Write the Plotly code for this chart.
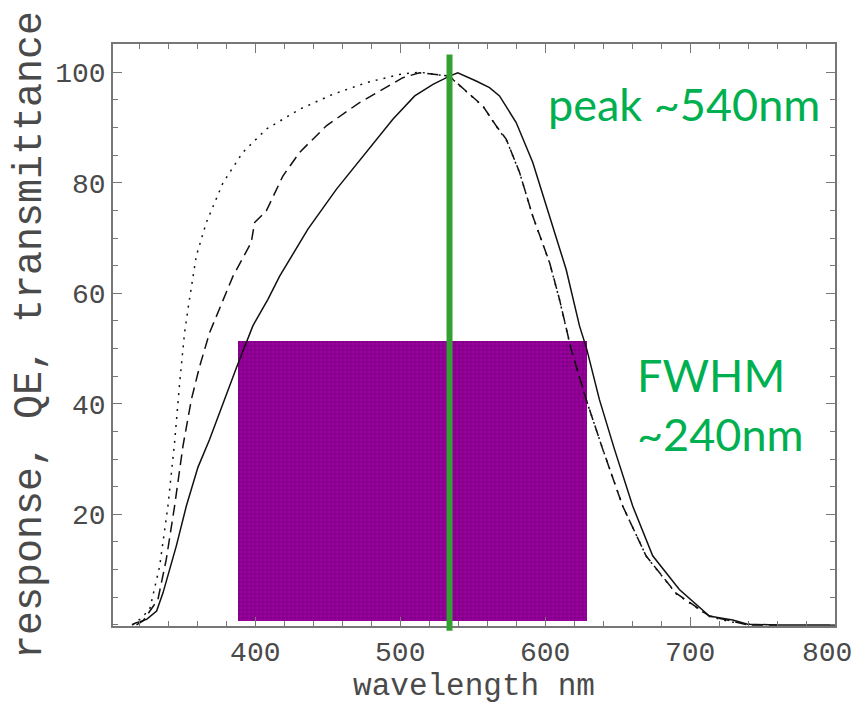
import plotly.graph_objects as go

# ---- data ----
solid_x = [315, 317, 325, 331.9, 336.3, 345.5, 352.4, 360.4, 368.5, 377.7, 386.9, 398.3, 408.7, 416.8,
           436.3, 455.9, 476.6, 494.9, 510, 522.6, 534, 539.7, 552.4, 561.6, 568.5, 580, 591.4, 603,
           614.5, 623.7, 628.7, 637.4, 647.8, 660.4, 674.2, 692.6, 713.3, 720, 729.4, 739.7, 760, 800]
solid_y = [0, 0.3, 1.0, 2.5, 5.8, 14.3, 21.5, 28.5, 33.6, 40.2, 46.5, 54.1, 58.9, 63.1,
           71.6, 78.8, 85.5, 91.5, 95.7, 97.8, 99.3, 99.9, 98.4, 97.2, 95.7, 90.9, 83.7, 74.0,
           64.3, 54.1, 49.9, 40.8, 31.8, 21.5, 12.5, 6.4, 1.6, 1.3, 0.9, 0.1, 0, 0]

dashed_x = [318, 322.5, 332.8, 338.6, 344.3, 350.1, 355.9, 361.6, 368.5, 377.7, 384.6, 397.2, 398.5,
            399.5, 407.6, 419.0, 430.6, 449, 471.9, 488, 501.8, 513.3, 522.5, 534, 536.3, 545.5, 557,
            566.2, 573.1, 582.3, 591.4, 603, 609.9, 617.9, 628.3, 639.7, 653.5, 669.6, 690.1, 713.3,
            729, 740, 760]
dashed_y = [0, 0.7, 4.6, 11.9, 21.5, 32.4, 40.8, 46.8, 52.9, 58.9, 63.1, 69.2, 71.5,
            72.8, 74.9, 81.2, 85.5, 90.3, 94.5, 96.9, 99.0, 99.9, 99.6, 99.3, 98.7, 96.6, 93.9,
            90.3, 87.9, 81.9, 74.0, 65.6, 58.9, 49.9, 40.8, 31.8, 21.5, 12.5, 5.8, 1.6,
            0.6, 0, 0]

dotted_x = [315, 320.2, 327.1, 334, 339.7, 344.3, 347.8, 351.2, 354.2, 359.3, 366.2, 377.7, 391.4,
            407.6, 430.6, 453.5, 476.6, 499.5, 513.3, 525, 534, 537, 546, 557.5, 566.5, 573.5, 582.5,
            591.6, 603.2, 610, 618, 628.5, 640, 653.8, 670, 690.5, 713.5, 729, 745]
dotted_y = [0, 1.0, 2.8, 10.6, 21.5, 33.0, 43.8, 52.9, 58.3, 66.8, 72.8, 80.0, 85.5,
            89.7, 93.3, 96.0, 98.1, 99.6, 100.0, 99.6, 99.1, 98.5, 96.4, 93.7, 90.1, 87.6, 81.7,
            73.8, 65.4, 58.7, 49.7, 40.6, 31.6, 21.3, 12.3, 5.6, 1.5, 0.5, 0]

peak_nm = 534
fwhm_left, fwhm_right = 388, 629
fwhm_bottom, fwhm_top = 0.7, 51.3

x_tick_vals = [400, 500, 600, 700, 800]
x_tick_labels = ["400", "500", "600", "700", "800"]
y_tick_vals = [20, 40, 60, 80, 100]

peak_label = "peak ~540nm"
fwhm_label = "FWHM<br>~240nm"

# ---- figure ----
fig = go.Figure()
line_col = "#111111"
fig.add_trace(go.Scatter(x=dotted_x, y=dotted_y, mode="lines",
                         line=dict(color=line_col, width=1.5, dash="2px,6px")))
fig.add_trace(go.Scatter(x=dashed_x, y=dashed_y, mode="lines",
                         line=dict(color=line_col, width=1.5, dash="11px,6px")))
fig.add_trace(go.Scatter(x=solid_x, y=solid_y, mode="lines",
                         line=dict(color=line_col, width=1.5)))

fig.add_trace(go.Bar(x=[(fwhm_left + fwhm_right) / 2], y=[fwhm_top - fwhm_bottom],
                     base=[fwhm_bottom], width=[fwhm_right - fwhm_left],
                     marker=dict(color="#9a00a0", line=dict(width=0),
                                 pattern=dict(shape="+", fgcolor="#1a001a", bgcolor="#9a00a0",
                                              size=4, solidity=0.2))))

fig.add_shape(type="line", xref="x", yref="paper", x0=peak_nm, x1=peak_nm,
              y0=-0.008, y1=0.982, line=dict(color="#34a033", width=6), layer="above")

green_font = dict(family="Lato, Noto Sans", size=45, color="#00b050")
fig.add_annotation(x=600.5, y=94.3, xref="x", yref="y", text=peak_label, showarrow=False,
                   xanchor="left", yanchor="middle", font=green_font)
fig.add_annotation(x=662, y=39.8, xref="x", yref="y", text=fwhm_label, showarrow=False,
                   xanchor="left", yanchor="middle", align="left", font=green_font)

axis_col = "#777777"
mono = "Liberation Mono, DejaVu Sans Mono"
tick_font = dict(family=mono, size=28, color="#4a4a4a")

# last x tick label would spill past the page edge: draw it as an annotation kept inside
fig.add_annotation(x=1, y=0, xref="paper", yref="paper", text=x_tick_labels[-1],
                   showarrow=False, xanchor="right", yanchor="middle", xshift=19, yshift=-27,
                   font=tick_font)
shown_x_labels = x_tick_labels[:-1] + [""]

fig.update_xaxes(range=[301.8, 800], tickvals=x_tick_vals, ticktext=shown_x_labels,
                 ticks="inside", ticklen=9,
                 tickcolor=axis_col, showline=True, linecolor=axis_col, linewidth=1.5,
                 mirror="allticks", showgrid=False, zeroline=False, tickfont=tick_font,
                 automargin=False,
                 minor=dict(dtick=20, tick0=300, ticks="inside", ticklen=5, tickcolor=axis_col,
                            showgrid=False),
                 title=dict(text="wavelength nm", standoff=0,
                            font=dict(family=mono, size=31, color="#4a4a4a")))
fig.update_yaxes(range=[-0.2, 105.1], tickvals=y_tick_vals, ticks="inside", ticklen=9,
                 tickcolor=axis_col, showline=True, linecolor=axis_col, linewidth=1.5,
                 mirror="allticks", showgrid=False, zeroline=False, tickfont=tick_font,
                 automargin=False,
                 minor=dict(dtick=5, tick0=0, ticks="inside", ticklen=5, tickcolor=axis_col,
                            showgrid=False),
                 title=dict(text="response, QE, transmittance", standoff=6,
                            font=dict(family=mono, size=40, color="#4a4a4a")))

# page body adds an 8px margin, so the figure is sized/offset to compensate
fig.update_layout(width=847, height=705, margin=dict(l=105, r=20, t=36, b=87),
                  plot_bgcolor="white", paper_bgcolor="white", showlegend=False,
                  bargap=0)

fig.write_html("out.html")
